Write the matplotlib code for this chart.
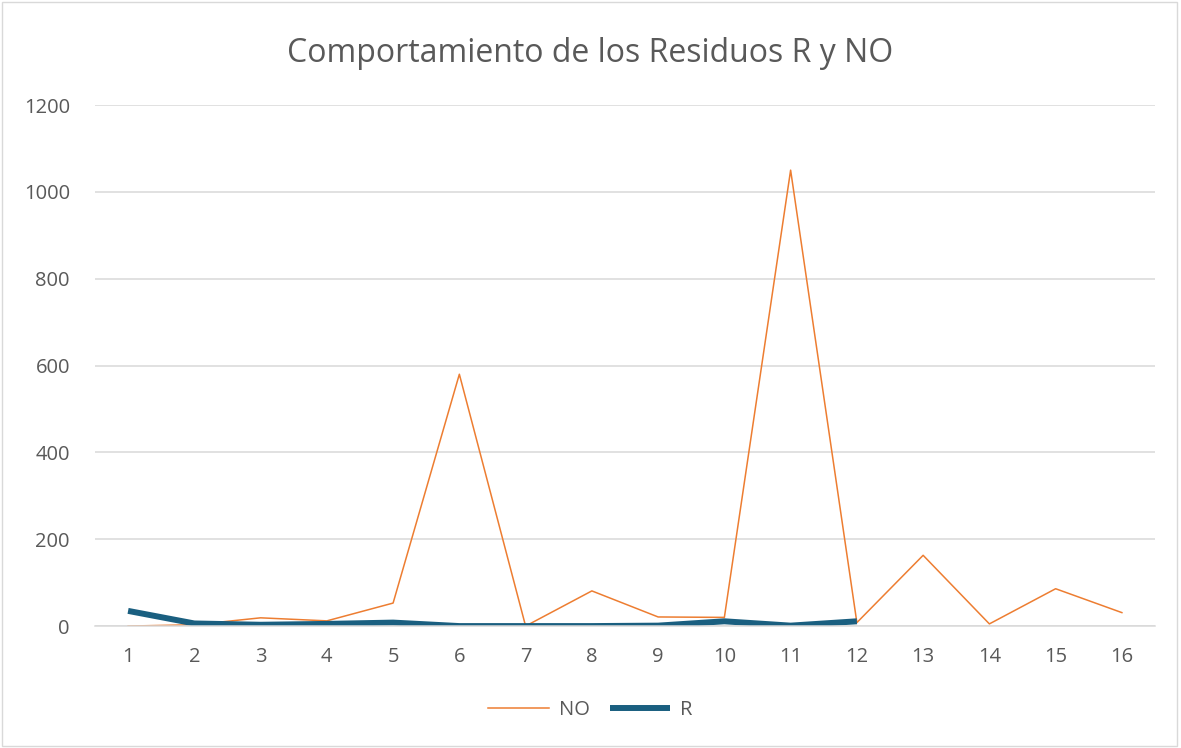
import matplotlib
matplotlib.use('Agg')
import matplotlib.pyplot as plt
from matplotlib.patches import Rectangle

# Datos de los residuos
categorias = list(range(1, 17))
residuos_no = [0, 3, 19, 12, 53, 580, 0, 81, 21, 20, 1050, 8, 163, 5, 86, 31]
categorias_r = list(range(1, 13))
residuos_r = [35, 6, 3, 5, 8, 0, 0, 0, 1, 11, 1, 11]

gris = '#595959'
plt.rcParams['font.family'] = ['Open Sans', 'DejaVu Sans']

fig = plt.figure(figsize=(11.81, 7.48), dpi=100)
ax = fig.add_axes([0.0804, 0.163, 0.8976, 0.6966])

ax.plot(categorias, residuos_no, color='#ED7D31', lw=1.1, label='NO')
ax.plot(categorias_r, residuos_r, color='#1a5f80', lw=4.3, label='R',
        solid_capstyle='butt')

ax.set_xlim(0.5, 16.5)
ax.set_ylim(0, 1200)
ax.set_yticks(range(0, 1201, 200))
ax.set_xticks(categorias)
ax.grid(axis='y', color='#D9D9D9', lw=1.1)
ax.set_axisbelow(True)
for s in ['top', 'right', 'left']:
    ax.spines[s].set_visible(False)
ax.spines['bottom'].set_color('#D9D9D9')
ax.spines['bottom'].set_linewidth(1.1)
ax.tick_params(length=0, labelsize=14.5, colors=gris)
ax.tick_params(axis='x', pad=15)
ax.tick_params(axis='y', pad=18)

fig.suptitle('Comportamiento de los Residuos R y NO', y=0.95,
             fontsize=23, color=gris)
fig.legend(loc='center', bbox_to_anchor=(0.5, 0.051), ncol=2, frameon=False,
           fontsize=14.5, labelcolor=gris, handlelength=3.0, columnspacing=1.0,
           handletextpad=0.5)

fig.patches.append(Rectangle((0.002, 0.003), 0.995, 0.994, transform=fig.transFigure,
                             fill=False, edgecolor='#D9D9D9', lw=1))

fig.savefig('out.png', dpi=100)
